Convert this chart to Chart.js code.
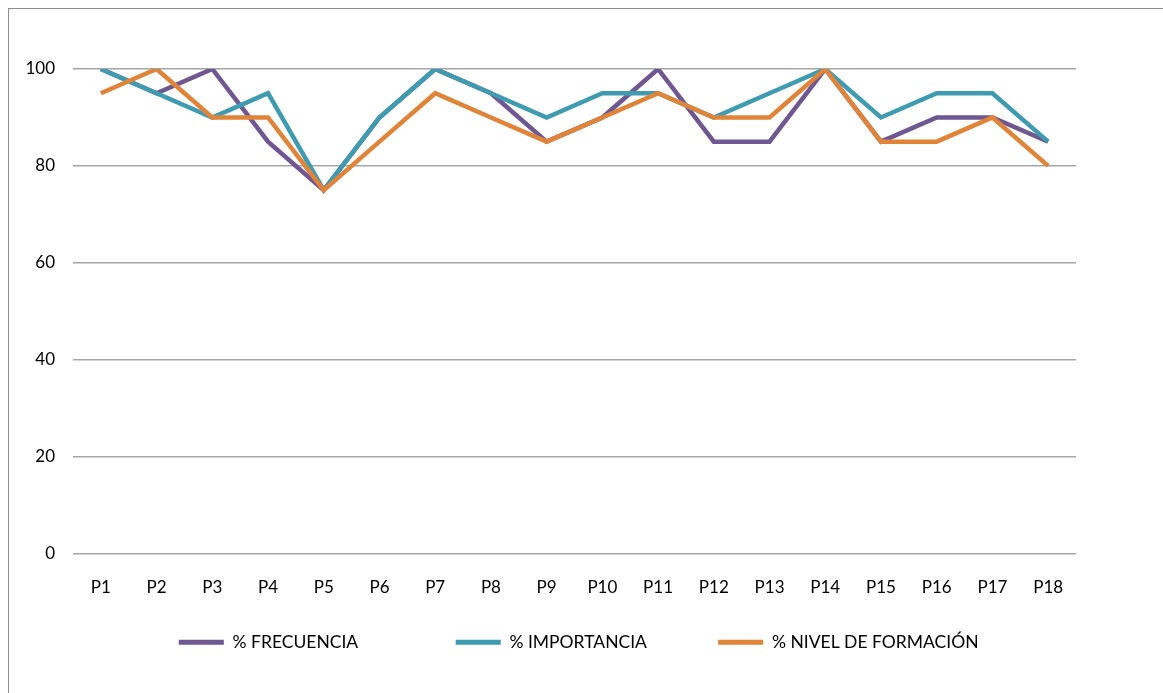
<!DOCTYPE html>
<html>
<head>
<meta charset="utf-8">
<script src="https://cdn.jsdelivr.net/npm/chart.js@4.4.1/dist/chart.umd.min.js"></script>
<style>
    html, body { margin: 0; padding: 0; background: #fff; }
    #wrap { position: relative; width: 1163px; height: 693px; }
    #frame { position: absolute; left: 8px; top: 8px; width: 1160px; height: 690px; border: 1.5px solid #8c8c8c; box-sizing: border-box; }
    canvas { position: absolute; left: 0; top: 0; }
</style>
</head>
<body>
<div id="wrap">
    <div id="frame"></div>
    <canvas id="myChart" width="1163" height="693"></canvas>
</div>
<script>
    const categories = ['P1', 'P2', 'P3', 'P4', 'P5', 'P6', 'P7', 'P8', 'P9', 'P10', 'P11', 'P12', 'P13', 'P14', 'P15', 'P16', 'P17', 'P18'];
    const frecuencia = [100, 95, 100, 85, 75, 90, 100, 95, 85, 90, 100, 85, 85, 100, 85, 90, 90, 85];
    const importancia = [100, 95, 90, 95, 75, 90, 100, 95, 90, 95, 95, 90, 95, 100, 90, 95, 95, 85];
    const nivelFormacion = [95, 100, 90, 90, 75, 85, 95, 90, 85, 90, 95, 90, 90, 100, 85, 85, 90, 80];
    const yTicks = [0, 20, 40, 60, 80, 100];

    const fontFamily = 'Lato, "Liberation Sans", sans-serif';

    // extra en-spaces after each legend label, to spread the items like the original
    const legendGaps = [10, 7, 10];

    let ctx = document.getElementById('myChart');

    let myChart = new Chart(ctx, {
        type: 'line',
        data: {
            labels: categories,
            datasets: [{
                label: '% FRECUENCIA',
                data: frecuencia,
                borderColor: '#6f5792',
                backgroundColor: '#6f5792',
                borderWidth: 4.5,
                pointRadius: 0,
                tension: 0,
                order: 2
            }, {
                label: '% IMPORTANCIA',
                data: importancia,
                borderColor: '#3f9bb0',
                backgroundColor: '#3f9bb0',
                borderWidth: 4.5,
                pointRadius: 0,
                tension: 0,
                order: 1
            }, {
                label: '% NIVEL DE FORMACIÓN',
                data: nivelFormacion,
                borderColor: '#e0843a',
                backgroundColor: '#e0843a',
                borderWidth: 4.5,
                pointRadius: 0,
                tension: 0,
                order: 0
            }]
        },
        options: {
            responsive: false,
            animation: false,
            layout: {
                padding: { top: 69, right: 87, bottom: 32, left: 0 }
            },
            scales: {
                x: {
                    offset: true,
                    grid: { display: false, drawTicks: false },
                    border: { display: false },
                    ticks: {
                        padding: 24,
                        color: '#000',
                        font: { family: fontFamily, size: 17 },
                        maxRotation: 0,
                        autoSkip: false
                    },
                    afterFit: function (scale) { scale.height = 70; }
                },
                y: {
                    min: 0,
                    max: 100,
                    afterBuildTicks: function (scale) {
                        scale.ticks = yTicks.map(v => ({ value: v }));
                    },
                    grid: { color: '#a6a6a6', lineWidth: 1.5, drawTicks: false },
                    border: { display: false },
                    ticks: {
                        padding: 18,
                        color: '#000',
                        font: { family: fontFamily, size: 17 }
                    },
                    afterFit: function (scale) { scale.width = 73; }
                }
            },
            plugins: {
                legend: {
                    position: 'bottom',
                    align: 'end',
                    labels: {
                        boxWidth: 45,
                        boxHeight: 5,
                        padding: 10,
                        color: '#000',
                        font: { family: fontFamily, size: 17.5 },
                        sort: (a, b) => a.datasetIndex - b.datasetIndex,
                        generateLabels: function (chart) {
                            const items = Chart.defaults.plugins.legend.labels.generateLabels(chart);
                            items.forEach(item => {
                                item.text = item.text + '\u2002'.repeat(legendGaps[item.datasetIndex]);
                                item.lineWidth = 0;
                            });
                            return items;
                        }
                    }
                },
                tooltip: { enabled: false }
            }
        }
    });
</script>
</body>
</html>
